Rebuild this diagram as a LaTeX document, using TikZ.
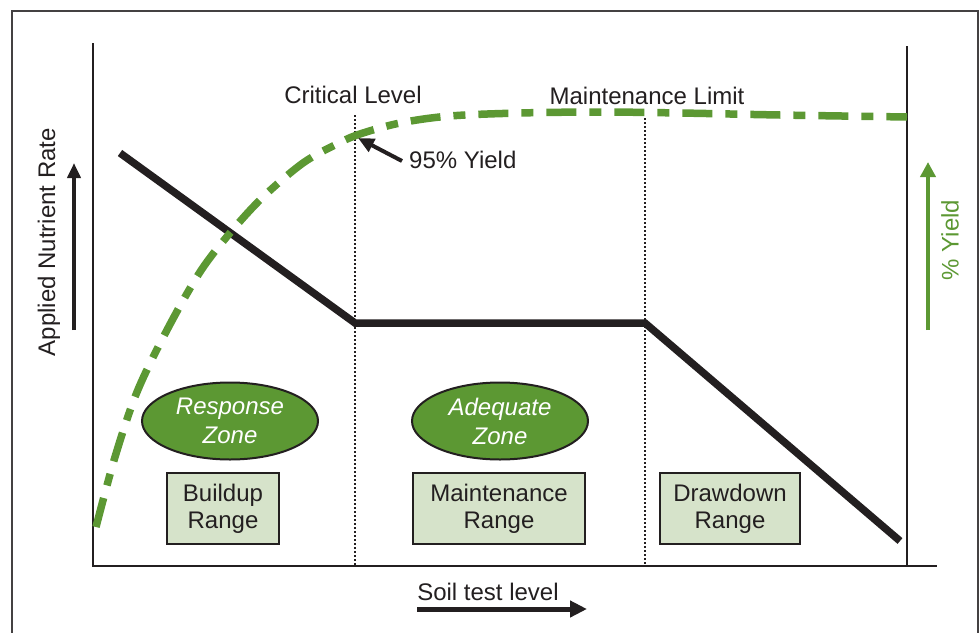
\documentclass[tikz,border=0pt]{standalone}
\usepackage{fontspec}
\setmainfont{Liberation Sans}
\usetikzlibrary{arrows.meta,shapes.geometric}
\definecolor{leaf}{RGB}{92,152,51}
\definecolor{pale}{RGB}{214,227,202}
\definecolor{ink}{RGB}{35,31,32}

\begin{document}
\begin{tikzpicture}[x=1pt,y=-1pt,
  lbl/.style={font=\fontsize{24}{28}\selectfont, text=ink, inner sep=0pt},
  zone/.style={ellipse, draw=ink, line width=2pt, fill=leaf, minimum width=176pt,
    minimum height=77pt, inner sep=0pt, text=white,
    font=\fontsize{24}{29}\selectfont\itshape, align=center},
  rangebox/.style={rectangle, draw=ink, line width=2.2pt, fill=pale, minimum height=71pt,
    inner sep=0pt, text=ink, font=\fontsize{24}{27}\selectfont, align=center},
  axis/.style={draw=ink, line width=2pt},
  guide/.style={draw=ink, line width=2pt, dash pattern=on 2pt off 2pt},
  pointer/.style={-{Triangle[length=16pt,width=14pt]}, line width=4pt, draw=ink},
  rate/.style={draw=ink, line width=7.5pt, line join=miter},
  yieldcurve/.style={draw=leaf, line width=7.5pt, dash pattern=on 30pt off 13pt on 12pt off 13pt},
]
\useasboundingbox (0,0) rectangle (979,632);

% outer frame
\draw[ink!85, line width=1.5pt] (12,645) -- (12,11) -- (978,11) -- (978,645);

% axes
\coordinate (ytop) at (93,43);
\coordinate (origin) at (93,566);
\coordinate (xend) at (937,566);
\coordinate (rtop) at (907,46);
\coordinate (rbot) at (907,566);
\draw[axis] (ytop) -- (origin) -- (xend);
\draw[axis] (rtop) -- (rbot);

% level labels and guide lines
\node[lbl] (crit) at (353,95) {Critical Level};
\node[lbl] (mlim) at (647,96) {Maintenance Limit};
\coordinate (critTop) at (355,115);
\coordinate (critBot) at (355,566);
\coordinate (mlimTop) at (645,118);
\coordinate (mlimBot) at (645,566);
\draw[guide] (critTop) -- (critBot);
\draw[guide] (mlimTop) -- (mlimBot);

% applied nutrient rate
\coordinate (r0) at (120,153);
\coordinate (r1) at (355,323);
\coordinate (r2) at (645,323);
\coordinate (r3) at (900,541);
\draw[rate] (r0) -- (r1) -- (r2) -- (r3);

% yield response curve
\draw[yieldcurve] plot[smooth, tension=0.55] coordinates {
  (96,527) (115,457) (137,392) (167,330) (200,272) (230,233) (263,197)
  (303,163) (337,144) (360,134) (400,123) (450,116) (520,113) (600,112)
  (680,113) (780,115) (907,117)};

% 95% yield pointer
\coordinate (pt95) at (358,138);
\coordinate (tail95) at (402,161);
\node[lbl, anchor=west] (y95) at (409,160) {95\% Yield};
\draw[pointer] (tail95) -- (pt95);

% zones
\node[zone] (resp) at (230,421) {Response\\Zone};
\node[zone] (adeq) at (500,421) {Adequate\\Zone};

% ranges
\node[rangebox, minimum width=112pt] (build) at (223,508.5) {Buildup\\Range};
\node[rangebox, minimum width=172pt] (maint) at (499,508.5) {Maintenance\\Range};
\node[rangebox, minimum width=140pt] (draw) at (730,508.5) {Drawdown\\Range};

% axis titles
\node[lbl, rotate=90, text depth=0pt] (ylab) at (46.5,242) {Applied Nutrient Rate};
\coordinate (nlo) at (74,330);
\coordinate (nhi) at (74,163);
\draw[pointer, -{Triangle[length=15pt,width=13pt]}] (nlo) -- (nhi);

\node[lbl, rotate=90, text=leaf, text depth=0pt] (yl) at (950,240) {\% Yield};
\coordinate (glo) at (928,330);
\coordinate (ghi) at (928,162);
\draw[pointer, draw=leaf, -{Triangle[length=15pt,width=15pt]}] (glo) -- (ghi);

\node[lbl] (xlab) at (488,592) {Soil test level};
\coordinate (slo) at (417,609);
\coordinate (shi) at (587,609);
\draw[pointer, line width=5pt, -{Triangle[length=17pt,width=16pt]}] (slo) -- (shi);
\end{tikzpicture}
\end{document}
